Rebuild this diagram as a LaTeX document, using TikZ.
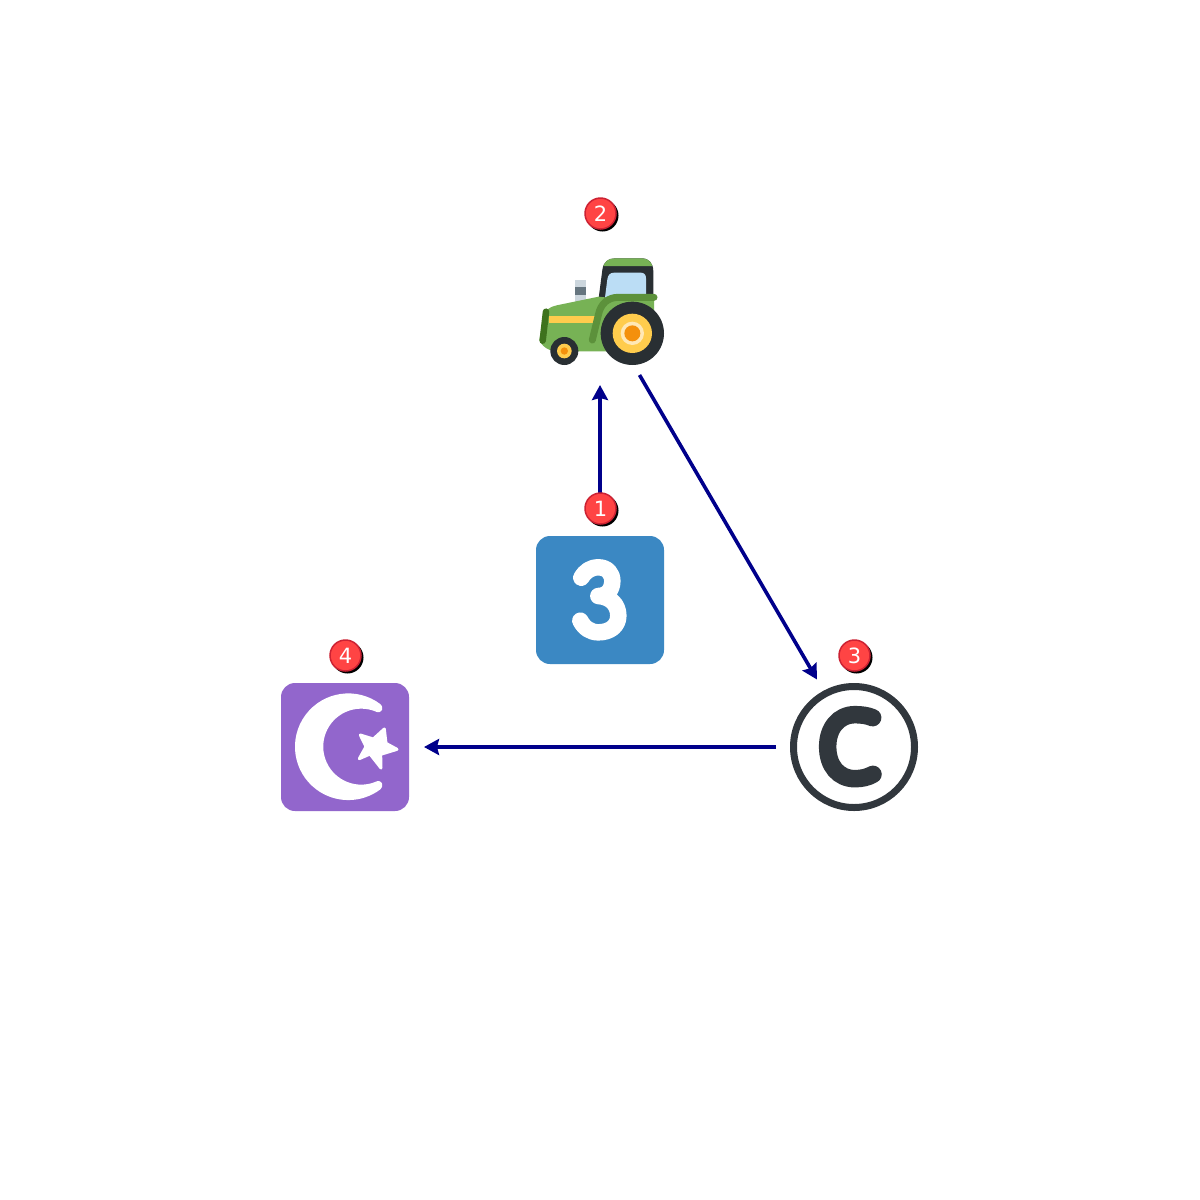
\documentclass[tikz,border=0pt]{standalone}
\usepackage{fontspec}
\setmainfont{DejaVu Sans}
\usetikzlibrary{arrows.meta}
\definecolor{arrowblue}{HTML}{00008B}
\definecolor{badgered}{HTML}{FF4444}
\definecolor{badgeedge}{HTML}{CC2233}
\definecolor{tdark}{HTML}{292F33}
\definecolor{tgreen}{HTML}{77B255}
\definecolor{tfender}{HTML}{5C913B}
\definecolor{tbar}{HTML}{3E721D}
\definecolor{tyellow}{HTML}{FFCC4D}
\definecolor{tpale}{HTML}{FFE8B6}
\definecolor{torange}{HTML}{F4900C}
\definecolor{tglass}{HTML}{BBDDF5}
\definecolor{tsteel}{HTML}{CCD6DD}
\definecolor{tband}{HTML}{66757F}
\definecolor{keyblue}{HTML}{3B88C3}
\definecolor{moonpurple}{HTML}{9266CC}
\definecolor{copydark}{HTML}{31373D}
\tikzset{
  anchorcircle/.style={circle,inner sep=0pt,outer sep=0pt,minimum size=#1},
  link/.style={draw=arrowblue,line width=3.6pt,-{Stealth[length=15pt,width=16pt,inset=2pt]}},
  badge/.style={circle,fill=badgered,draw=badgeedge,line width=1.5pt,inner sep=0pt,minimum size=31pt,text=white,font=\fontsize{21}{21}\selectfont},
  badgeshadow/.style={circle,fill=black,inner sep=0pt,minimum size=32pt},
  zoomed/.style={x=0.33333pt,y=-0.33333pt}
}
\newcommand{\digitlow}[1]{\raisebox{-1pt}{#1}}
\begin{document}
\begin{tikzpicture}[x=1pt,y=-1pt]
\useasboundingbox (0,0) rectangle (1200,1200);
\fill[white] (0,0) rectangle (1200,1200);

% invisible anchors for the connectors
\node[anchorcircle=168pt] (three) at (600,600) {};
\node[anchorcircle=170pt] (tractor) at (600,300) {};
\node[anchorcircle=156pt] (copyr) at (854,747) {};
\node[anchorcircle=158pt] (moon) at (345,747) {};
\coordinate (tractorout) at (639.5,375);
\coordinate (copyin) at (817,679.5);

% keycap 3
\fill[keyblue,rounded corners=14pt] (536,536) rectangle (664,664);
\begin{scope}[shift={(530,485)},zoomed]
  \draw[white,line width=16.5pt,line cap=round,line join=round]
    (154,278) .. controls (166,258) and (182,247) .. (205,247)
    .. controls (232,247) and (247,265) .. (247,288)
    .. controls (247,315) and (230,333) .. (205,333)
    .. controls (240,335) and (265,358) .. (265,392)
    .. controls (265,423) and (240,442) .. (205,442)
    .. controls (182,442) and (163,430) .. (151,407);
\end{scope}

% tractor
\begin{scope}[shift={(530,190)},zoomed]
  \fill[tsteel] (135,270) rectangle (168,335);
  \fill[tband] (135,292) rectangle (168,314);
  \fill[tdark] (200,370) -- (217,240) .. controls (220,215) and (235,205) .. (255,205)
     -- (335,205) .. controls (358,205) and (370,220) .. (370,245) -- (370,350) -- cycle;
  \fill[tgreen] (220,228) .. controls (226,212) and (238,205) .. (255,205)
     -- (335,205) .. controls (352,205) and (363,214) .. (367,228) -- cycle;
  \fill[tglass] (224,330) -- (232,268) .. controls (234,255) and (240,248) .. (252,248)
     -- (333,248) .. controls (343,248) and (348,255) .. (348,265) -- (348,320) -- cycle;
  \fill[tgreen] (28,450) -- (42,370) .. controls (50,358) and (62,350) .. (80,346)
     -- (206,320) -- (250,325) -- (372,320) -- (372,484) -- (110,484) -- (60,480)
     .. controls (45,475) and (32,462) .. (28,450) -- cycle;
  \fill[tyellow] (58,377) rectangle (197,400);
  \draw[tbar,line width=6.5pt,line cap=round] (48,365) -- (38,452);
  \draw[tfender,line width=7pt,line cap=round,line join=round]
    (187,450) -- (205,375) .. controls (212,340) and (235,322) .. (265,322) -- (372,322);
  \fill[tdark] (307,430) circle (95);
  \fill[tyellow] (307,430) circle (59);
  \fill[tpale] (307,430) circle (35);
  \fill[torange] (307,430) circle (24);
  \fill[tdark] (103,483) circle (42);
  \fill[tyellow] (103,483) circle (22);
  \fill[torange] (103,483) circle (11);
\end{scope}

% star and crescent
\fill[moonpurple,rounded corners=14pt] (281,683) rectangle (409,811);
\begin{scope}[shift={(270,635)},zoomed]
  \draw[white,fill=white,line width=8pt,line join=round]
    (324,217) arc (-53:-307:148)
    -- (325,450) arc (66:294:126) -- cycle;
  \draw[white,fill=white,line width=3pt,line join=round]
    (343,282) -- (348,325) -- (381,343) -- (332,358) -- (333,399)
    -- (300,357) -- (268,371) -- (288,335) -- (271,300) -- (310,312) -- cycle;
\end{scope}

% copyright sign
\draw[copydark,line width=7pt] (854,747) circle (60.5);
\begin{scope}[shift={(770,635)},zoomed]
  \draw[copydark,line width=17.5pt,line cap=round]
    (308,248) .. controls (292,241) and (272,239) .. (255,239)
    .. controls (205,239) and (173,280) .. (173,335)
    .. controls (173,392) and (205,431) .. (255,431)
    .. controls (275,431) and (293,427) .. (309,418);
\end{scope}

% connectors
\draw[link] (three) -- (tractor);
\draw[link] (tractorout) -- (copyin);
\draw[link] (copyr) -- (moon);

% badges
\node[badgeshadow] (s1) at (602.5,510.5) {};
\node[badge] (b1) at (600.5,508.5) {\digitlow{1}};
\node[badgeshadow] (s2) at (602.5,215.5) {};
\node[badge] (b2) at (600.5,213.5) {\digitlow{2}};
\node[badgeshadow] (s3) at (856.5,657.5) {};
\node[badge] (b3) at (854.5,655.5) {\digitlow{3}};
\node[badgeshadow] (s4) at (347.5,657.5) {};
\node[badge] (b4) at (345.5,655.5) {\digitlow{4}};
\end{tikzpicture}
\end{document}
